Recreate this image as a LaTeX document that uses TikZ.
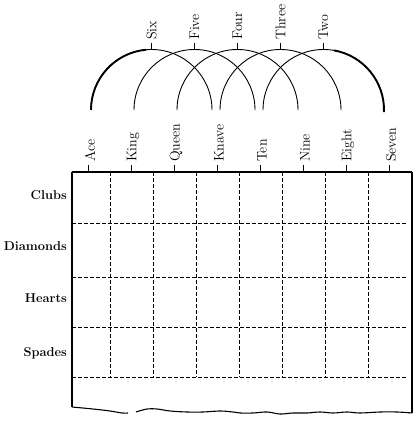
\documentclass[tikz,border=0pt]{standalone}
\begin{document}
\begin{tikzpicture}[x=1pt,y=1pt,
  collabel/.style={rotate=90,anchor=west,inner sep=0pt,font=\fontsize{14}{16}\selectfont},
  rowlabel/.style={anchor=base east,inner sep=0pt,font=\bfseries\fontsize{12.8}{14}\selectfont},
  gridline/.style={line width=0.8pt,dash pattern=on 4pt off 2pt},
  arcline/.style={line width=0.9pt},
  thickarc/.style={line width=1.9pt},
  tick/.style={line width=0.9pt}]
\useasboundingbox (0,0) rectangle (420,423);
% column ticks and labels
\foreach \n/\lab [count=\i from 0] in {ace/Ace,king/King,queen/Queen,knave/Knave,ten/Ten,nine/Nine,eight/Eight,seven/Seven}{
  \coordinate (t\n) at ({88+43*\i},251);
  \coordinate (u\n) at ({88+43*\i},258);
  \node[collabel] (\n) at ({90+43*\i},261) {\lab};
  \draw[tick] (t\n) -- (u\n);
}
% grid dashed verticals
\foreach \i in {0,...,6}{
  \coordinate (vt\i) at ({110+43*\i},251);
  \coordinate (vb\i) at ({110+43*\i},46);
  \draw[gridline] (vt\i) -- (vb\i);
}
% grid dashed horizontals
\foreach \yy [count=\j] in {200,146,96,46}{
  \coordinate (hl\j) at (72,\yy);
  \coordinate (hr\j) at (407,\yy);
  \draw[gridline] (hl\j) -- (hr\j);
}
% frame
\coordinate (tl) at (72,251);
\coordinate (tr) at (412,251);
\coordinate (bl) at (72,16);
\coordinate (br) at (412,10);
\draw[line width=1.2pt] (tl) -- (tr);
\draw[line width=1.4pt] (tl) -- (bl);
\draw[line width=1.9pt] (tr) -- (br);
\draw[line width=1.1pt] plot[smooth,tension=0.6] coordinates {(72,16) (93,14) (110,12) (122,10) (128,10)};
\draw[line width=1.1pt] plot[smooth,tension=0.6] coordinates {(136,11) (147,14) (157,14) (170,12) (187,11) (203,11) (220,12) (233,11) (240,10) (253,10) (267,11) (280,9) (293,10) (307,10) (320,11) (333,10) (347,11) (360,10) (380,11) (397,11) (412,10)};
% row labels
\node[rowlabel] (clubs) at (67,223) {Clubs};
\node[rowlabel] (diamonds) at (67,172) {Diamonds};
\node[rowlabel] (hearts) at (67,120) {Hearts};
\node[rowlabel] (spades) at (67,66) {Spades};
% arcs
\foreach \n/\lab [count=\i from 0] in {six/Six,five/Five,four/Four,three/Three,two/Two}{
  \coordinate (a\n) at ({91+43*\i},313);
  \coordinate (p\n) at ({151.5+43*\i},374);
  \coordinate (q\n) at ({151.5+43*\i},380);
  \draw[arcline] (a\n) arc[start angle=180,end angle=0,radius=60.5];
  \draw[tick] (p\n) -- (q\n);
  \node[collabel] (\n) at ({151.5+43*\i},383) {\lab};
}
\draw[thickarc] (asix) arc[start angle=180,end angle=95,radius=60.5];
\draw[thickarc] (ptwo) ++(10.5,-1.4) arc[start angle=80,end angle=-2,radius=60.5];
\end{tikzpicture}
\end{document}
